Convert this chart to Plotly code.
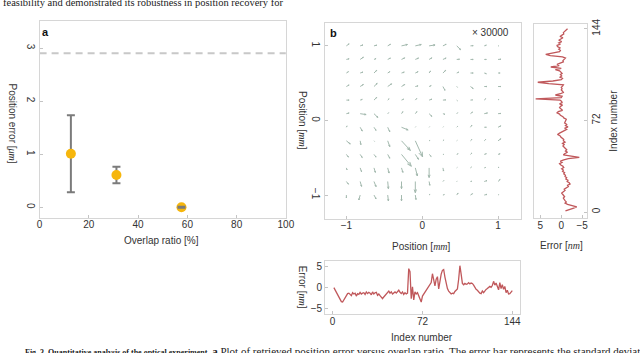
import plotly.graph_objects as go
import plotly.figure_factory as ff

# panel a: position error vs overlap ratio
overlap = [12.7, 31.2, 57.6]
pos_err = [1.01, 0.61, 0.0]
pos_err_std = [0.725, 0.155, 0.01]
err_limit = 2.9

# panel b: 12 x 12 scan grid, rows listed top (y = 1) to bottom (y = -1)
grid_x = [-1, -0.818, -0.636, -0.455, -0.273, -0.091, 0.091, 0.273, 0.455, 0.636, 0.818, 1]
grid_y = [1, 0.818, 0.636, 0.455, 0.273, 0.091, -0.091, -0.273, -0.455, -0.636, -0.818, -1]
quiver_scale = 30000

# position error per grid point [nm]
quiver_u = [
    [1.2, 1.2, 1.2, 1.2, 2.6, 2.6, 2.6, 1.4, 1.7, 1.2, 0.9, 0.3],
    [1.2, 1.4, 0.9, 1.2, 1.4, 1.4, 1.2, 1.4, 1.2, 1.2, 0.9, 1.2],
    [0.9, 1.2, 1.2, 0.9, 1.2, 1.2, 0.6, 1.2, 0.9, 1.2, 0.9, 0.9],
    [1.2, 1.4, 1.4, 1.7, 1.4, 1.2, 0.9, 0.9, 0.3, 1.2, 1.2, 1.2],
    [1.2, 0.9, 1.2, 0.6, 0.9, 0.6, 1.2, 1.2, 0.3, 0.9, 0.6, 0.4],
    [1.2, 2.6, 1.7, 0.4, 0.6, 0.7, 1.2, 0.9, 0.4, 0.9, 1.4, 1.2],
    [0.3, 0.9, 0.9, 0.9, 2.9, 0.2, 0.2, 0.2, 0.4, 0.6, 0.9, 1.2],
    [1.7, 0.3, 0.2, 0.9, 3.9, 3.2, 0.4, 0.4, 0.2, 0.6, 0.6, 1.2],
    [0.9, 0.9, 0.9, 0.9, 4.3, 1.4, 0.9, 0.4, 0.6, 0.6, 0.9, 0.9],
    [0.3, 0.6, 0.6, 0.6, 0.6, 0.9, 0.0, 0.3, 0.2, 0.4, 0.6, 0.4],
    [0.9, 0.6, 0.9, 0.3, 0.0, 0.0, 0.3, 0.4, 0.2, 0.6, 1.2, 0.9],
    [0.0, -0.6, 0.9, 0.3, 0.0, 0.3, 0.4, 0.6, 0.6, 0.9, 1.2, 0.3],
]
quiver_v = [
    [0.9, 0.4, 0.3, 0.7, 0.6, 0.6, 0.4, 0.7, -1.7, 0.1, 0.3, 0.0],
    [0.3, 1.0, 0.4, 0.6, 0.7, 0.6, 0.7, 0.6, 0.1, 0.0, 0.0, 0.1],
    [0.6, 0.4, 1.2, 0.6, 0.4, 0.6, 0.9, 1.2, 0.4, 0.0, -0.3, 0.0],
    [0.7, 0.9, 1.4, 1.2, 0.9, 0.3, 0.4, -1.7, -0.3, -0.9, 0.0, 0.0],
    [0.0, 0.3, 1.2, 0.6, 0.4, 0.7, 0.4, 0.1, -0.3, 0.1, 0.6, 0.4],
    [0.3, -0.4, -1.7, 0.4, 0.9, 0.9, -1.2, -0.3, 0.4, 0.7, 0.3, 0.1],
    [0.6, -1.7, -1.4, -2.0, -1.2, 0.2, 0.2, 0.2, 0.4, 0.9, 0.0, 0.6],
    [-1.4, -1.7, -0.2, -2.6, -4.3, -7.2, 0.2, 0.4, 0.2, 0.6, 0.6, 0.9],
    [-1.2, -1.4, -1.2, -1.7, -5.3, -2.2, -0.9, 0.0, 0.3, 0.6, 0.3, 0.3],
    [-0.9, -1.7, -2.0, -2.3, -2.0, -3.6, -4.3, -1.4, 0.2, 0.4, 0.2, 0.4],
    [-1.2, -2.2, -2.3, -3.2, -3.2, -5.0, -1.7, 0.4, 0.2, 0.1, 0.4, 0.9],
    [-1.2, -2.2, -1.7, -2.6, -2.6, -2.0, 0.4, 0.2, 0.9, 0.6, 0.3, 0.2],
]

# error traces vs index number [nm]
index_no = list(range(1, 145))
err_x = [
    0, -0.5, -1.2, -1.8, -2.3, -2.7, -3.3, -3.4, -2.9, -2.1, -1.7, -1.4,
    -1.3, -1.6, -1.9, -1.2, -1.5, -1.3, -2.0, -1.4, -1.6, -1.1, -1.5, -1.3,
    -1.2, -1.6, -1.0, -1.4, -1.1, -1.3, -1.7, -1.0, -1.5, -1.2, -1.1, -1.8,
    -1.5, -1.9, -2.3, -2.6, -2.2, -1.8, -1.4, -1.0, -0.8, -1.3, -1.0, -1.5,
    -1.2, -1.0, -1.3, -0.9, -0.6, -1.1, -1.4, -1.0, -1.6, -1.2, -1.5, -1.3,
    4.5, 3.8, -2.6, 0.2, -2.9, -1.0, -1.5, -1.2, -2.0, -2.8, -3.4, -2.0,
    -1.5, -1.2, -0.8, -0.3, 0.2, 0.8, 1.2, 3.3, 1.6, 0.4, 2.0, 2.6,
    -0.3, 1.8, 3.2, 4.1, 4.3, 2.5, 0.9, -0.2, -0.8, -1.2, -1.5, -1.3,
    -1.4, -0.9, -0.5, -0.3, 2.0, 5.2, 3.2, 1.0, 0.7, 1.0, 0.8, 0.9,
    1.2, 0.9, 1.1, 1.0, 0.6, -0.1, -0.4, -0.6, -1.0, -1.3, -1.4, -0.8,
    -1.2, -0.6, -0.4, -0.2, 0.1, 0.3, 0.1, 0.5, 1.5, 0.6, 1.1, 0.4,
    -0.5, 1.2, -0.2, 0.7, -0.4, 0.3, -1.2, -0.6, -1.5, -1.4, -1.0, -0.7,
]
err_y = [
    -1.0, -1.7, -2.8, -3.7, -2.5, -1.5, -0.9, -1.2, -0.9, -0.6, -0.5, -0.8,
    -0.6, -0.3, -0.1, -0.5, -0.9, -0.7, -1.3, -1.7, -1.5, -2.1, -1.9, -1.4,
    -1.6, -1.1, -1.3, -0.9, -1.0, -0.6, -0.8, -0.3, -0.5, -0.1, -0.6, -0.4,
    0.1, 0.4, -0.2, 0.2, -0.6, -1.7, -4.3, -2.0, -0.5, -0.9, -1.5, -1.0,
    -1.3, -1.0, -0.6, -0.4, -0.7, -0.3, -0.9, -0.5, -0.6, -0.2, 0.1, 0.3,
    0.9, 0.4, -0.2, -0.8, -1.3, -0.9, -1.6, -1.0, -1.3, -0.8, -0.9, -1.0,
    -1.2, -0.6, -0.4, 0.2, 0.4, 1.0, 0.7, -0.3, 0.1, 0.4, 0.2, -0.3,
    0.4, -0.2, -0.1, 0.3, 6.1, 0.0, -0.2, 1.4, 0.2, -0.5, -0.3, 0.0,
    -0.2, 0.0, -0.3, -0.5, 3.0, 5.6, 2.0, 0.0, -0.3, 0.3, -0.1, 0.2,
    -0.2, 0.0, 0.4, 1.4, 0.0, 2.5, 0.5, 1.0, 0.3, -0.5, -0.4, -0.8,
    -1.0, -0.3, 2.6, 3.7, 1.4, 0.4, 0.2, 0.6, 0.3, 0.9, 1.0, 0.2,
    0.6, -0.1, 0.6, 0.2, -0.4, 0.3, -0.2, -0.6, -0.5, -0.9, -1.3, -1.5,
]

W, H = 640, 353
SANS = "Liberation Sans"
SERIF = "Liberation Serif"
TXT = "#333333"
RED = "#c0585b"


def px(x):
    return x / W


def py(y):
    return 1 - y / H


def unit(u):
    return f'[<span style="font-family:{SERIF}"><i>{u}</i></span>]'


axis_style = dict(
    showline=True, linecolor="#d6d6d6", linewidth=1, mirror=True,
    ticks="inside", ticklen=3, tickcolor="#c4c4c4",
    showgrid=False, zeroline=False,
    tickfont=dict(family=SANS, size=10, color=TXT),
)

fig = go.Figure()

# a
fig.add_trace(go.Scatter(
    x=[0, 100], y=[err_limit, err_limit], mode="lines",
    line=dict(color="#c8c8c8", width=2, dash="7px,5px"),
    xaxis="x", yaxis="y", showlegend=False))
fig.add_trace(go.Scatter(
    x=overlap, y=pos_err, mode="markers",
    marker=dict(color="#f6b60c", size=10),
    error_y=dict(type="data", array=pos_err_std, color="#7b7b7b",
                 thickness=2, width=4),
    xaxis="x", yaxis="y", showlegend=False))
# smallest error bar shows on top of its marker
fig.add_trace(go.Scatter(
    x=overlap[-1:], y=pos_err[-1:], mode="markers",
    marker=dict(opacity=0),
    error_y=dict(type="data", array=pos_err_std[-1:], color="#7b7b7b",
                 thickness=2, width=4),
    xaxis="x", yaxis="y", showlegend=False))

# b: quiver
qx, qy, qu, qv = [], [], [], []
for i, yy in enumerate(grid_y):
    for j, xx in enumerate(grid_x):
        qx.append(xx)
        qy.append(yy)
        qu.append(quiver_u[i][j])
        qv.append(quiver_v[i][j])
quiv = ff.create_quiver(qx, qy, qu, qv, scale=quiver_scale * 1e-6,
                        arrow_scale=0.3, line=dict(color="#a3b9ae", width=1))
for tr in quiv.data:
    tr.update(xaxis="x2", yaxis="y2", showlegend=False, hoverinfo="skip")
    fig.add_trace(tr)

# right: y error vs index (rotated)
fig.add_trace(go.Scatter(
    x=err_y, y=index_no, mode="lines", line=dict(color=RED, width=1.3),
    xaxis="x3", yaxis="y3", showlegend=False))

# bottom: x error vs index
fig.add_trace(go.Scatter(
    x=index_no, y=err_x, mode="lines", line=dict(color=RED, width=1.3),
    xaxis="x4", yaxis="y4", showlegend=False))

fig.update_layout(
    width=W, height=H, margin=dict(l=0, r=0, t=0, b=0),
    paper_bgcolor="white", plot_bgcolor="white",
    xaxis=dict(axis_style, domain=[px(37.3), px(288.3)], range=[0, 100],
               tickvals=[0, 20, 40, 60, 80, 100], ticklabelstandoff=-3, anchor="y"),
    yaxis=dict(axis_style, domain=[py(216), py(16.7)], range=[-0.2, 3.5],
               tickvals=[0, 1, 2, 3], tickangle=90, anchor="x"),
    xaxis2=dict(axis_style, domain=[px(328.3), px(527.7)], range=[-1.28, 1.30],
                tickvals=[-1, 0, 1], ticklabelstandoff=-3, anchor="y2"),
    yaxis2=dict(axis_style, domain=[py(217), py(18)], range=[-1.32, 1.31],
                tickvals=[-1, 0, 1], tickangle=90, anchor="x2"),
    xaxis3=dict(axis_style, domain=[px(540.7), px(595)], range=[6.6, -6.1],
                tickvals=[5, 0, -5], ticklabelstandoff=-2, anchor="y3"),
    yaxis3=dict(axis_style, domain=[py(216), py(19)], range=[-4.6, 148],
                tickvals=[0, 72, 144], tickangle=-90, side="right", anchor="x3"),
    xaxis4=dict(axis_style, domain=[px(328.3), px(527.3)], range=[-6, 150.5],
                tickvals=[0, 72, 144], ticklabelstandoff=-2, anchor="y4"),
    yaxis4=dict(axis_style, domain=[py(313.3), py(259.3)], range=[-6.2, 6.4],
                tickvals=[-5, 0, 5], anchor="x4"),
)


def label(text, x, y, angle=0, size=10, family=SANS, color=TXT,
          xanchor="center", yanchor="middle"):
    fig.add_annotation(text=text, x=px(x), y=py(y), xref="paper", yref="paper",
                       showarrow=False, textangle=angle,
                       xanchor=xanchor, yanchor=yanchor,
                       font=dict(family=family, size=size, color=color))


label("Overlap ratio [%]", 162, 239)
label("Position error " + unit("μm"), 10, 120, angle=90)
label("Position " + unit("mm"), 427, 245)
label("Position " + unit("mm"), 305, 117, angle=90)
label("Error " + unit("nm"), 569, 244)
label("Index number", 622, 117, angle=-90)
label("Index number", 427, 337)
label("Error " + unit("nm"), 305, 286, angle=90)
label("<b>a</b>", 43, 27, size=11, color="#111")
label("<b>b</b>", 337, 28, size=11, color="#111")
label("× 30000", 518, 28, xanchor="right")

# surrounding page text, clipped by the page edges
label("feasibility and demonstrated its robustness in position recovery for",
      -2, 5, size=10.5, family=SERIF, color="#222", xanchor="left", yanchor="bottom")
label("<b>Fig. 3. Quantitative analysis of the optical experiment.</b>"
      '<span style="font-size:11px"> <b>a</b> Plot of retrieved position error versus '
      "overlap ratio. The error bar represents the standard deviation</span>",
      20, 343, size=8, family=SERIF, color="#222", xanchor="left", yanchor="top")

# page body has a default 8px margin; drop it so the figure sits at the corner
fig.write_html("out.html", config={"displayModeBar": False},
               post_script="document.body.style.margin='0';")
